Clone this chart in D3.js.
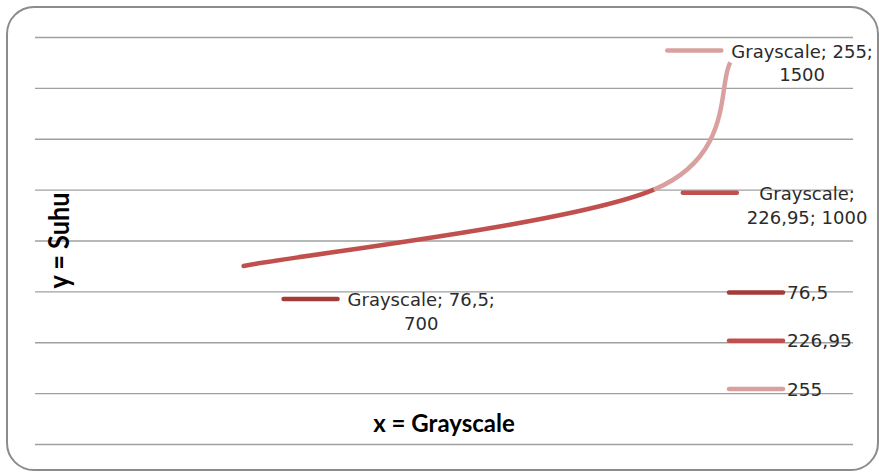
<!DOCTYPE html>
<html><head><meta charset="utf-8">
<script src="https://cdn.jsdelivr.net/npm/d3@7"></script>
<style>html,body{margin:0;padding:0;background:#fff;} svg{display:block;}</style>
</head><body>
<svg id="chart" width="879" height="472"></svg>
<script>
// Suhu (temperature) against grayscale level
const grayscale = [76.5, 226.95, 255];
const suhu = [700, 1000, 1500];
const seriesColors = ["#a33c39", "#c0504d", "#d9a09f"];
const yTicks = [0, 200, 400, 600, 800, 1000, 1200, 1400, 1600];
const xDomain = [0, 300];
const seriesName = "Grayscale";
const xTitle = "x = Grayscale";
const yTitle = "y = Suhu";

// data label placement: key-line start offset from its point, words on the first line
const labelLayout = [
  {dx: 40, dy: 33, firstLine: 2},
  {dx: 29, dy: 3, firstLine: 1},
  {dx: -63, dy: -12, firstLine: 2}
];

const W = 879, H = 472;
const plot = {left: 35, right: 853, top: 37, bottom: 444};
const svg = d3.select("#chart");
const labelFont = "'DejaVu Sans', sans-serif";
const textColor = "#2b2b2b";

const fmt = d3.formatLocale({decimal: ",", thousands: ".", grouping: [3], currency: ["", ""]}).format("~f");

const x = d3.scaleLinear().domain(xDomain).range([plot.left, plot.right]);
const y = d3.scaleLinear().domain([yTicks[0], yTicks[yTicks.length - 1]]).range([plot.bottom, plot.top]);

// outer frame
svg.append("rect")
  .attr("x", 7).attr("y", 7).attr("width", 871).attr("height", 463)
  .attr("rx", 27).attr("ry", 27)
  .attr("fill", "#fff").attr("stroke", "#8c8c8c").attr("stroke-width", 2);

// horizontal gridlines
const grid = svg.append("g")
  .attr("transform", `translate(${plot.left},0)`)
  .call(d3.axisLeft(y).tickValues(yTicks).tickSize(-(plot.right - plot.left)).tickFormat(""));
grid.select(".domain").remove();
grid.selectAll(".tick line").attr("stroke", "#a0a0a0").attr("stroke-width", 1.3);

// axis titles
svg.append("text")
  .attr("x", (plot.left + plot.right) / 2).attr("y", 432)
  .attr("text-anchor", "middle")
  .attr("font-family", "Lato, sans-serif").attr("font-weight", "bold").attr("font-size", 24)
  .attr("fill", "#000").text(xTitle);
svg.append("text")
  .attr("transform", `translate(69,${(plot.top + plot.bottom) / 2}) rotate(-90)`)
  .attr("text-anchor", "middle")
  .attr("font-family", "Lato, sans-serif").attr("font-weight", "bold").attr("font-size", 28)
  .attr("textLength", 96).attr("lengthAdjust", "spacingAndGlyphs")
  .attr("fill", "#000").text(yTitle);

// smoothed curve (cubic Bezier through the points, tangents from neighbours),
// each segment coloured by the point it leads to
const pts = grayscale.map((g, i) => [x(g), y(suhu[i])]);
const n = pts.length;
const tangents = pts.map((p, j) => {
  const a = pts[Math.max(0, j - 1)], b = pts[Math.min(n - 1, j + 1)];
  return [(b[0] - a[0]) / 6, (b[1] - a[1]) / 6];
});
for (let i = 0; i < n - 1; i++) {
  const p0 = pts[i], p1 = pts[i + 1], t0 = tangents[i], t1 = tangents[i + 1];
  const path = d3.path();
  path.moveTo(p0[0], p0[1]);
  path.bezierCurveTo(p0[0] + t0[0], p0[1] + t0[1], p1[0] - t1[0], p1[1] - t1[1], p1[0], p1[1]);
  svg.append("path")
    .attr("d", path.toString())
    .attr("fill", "none")
    .attr("stroke", seriesColors[i + 1])
    .attr("stroke-width", 4.5)
    .attr("stroke-linecap", i === 0 ? "round" : "butt");
}

// data labels with their legend keys
const keyLen = 54;
grayscale.forEach((g, i) => {
  const lay = labelLayout[i];
  const words = [seriesName + ";", fmt(g) + ";", fmt(suhu[i])];
  const lines = [words.slice(0, lay.firstLine).join(" "), words.slice(lay.firstLine).join(" ")];
  const kx = x(g) + lay.dx, ky = y(suhu[i]) + lay.dy;
  svg.append("line")
    .attr("x1", kx).attr("x2", kx + keyLen).attr("y1", ky).attr("y2", ky)
    .attr("stroke", seriesColors[i]).attr("stroke-width", 4.5).attr("stroke-linecap", "round");
  const tg = svg.append("g");
  const texts = lines.map((t, j) => tg.append("text")
    .attr("y", ky + 7.5 + j * 23.5)
    .attr("font-family", labelFont).attr("font-size", 18)
    .attr("fill", textColor).attr("text-anchor", "middle").text(t));
  const bw = d3.max(texts, t => t.node().getComputedTextLength());
  const cx = kx + keyLen + 10 + bw / 2;
  texts.forEach(t => t.attr("x", cx));
});

// legend
const legendX = 729, legendTop = 292.5, legendRow = 48.3;
grayscale.forEach((g, i) => {
  const ly = legendTop + i * legendRow;
  svg.append("line")
    .attr("x1", legendX).attr("x2", legendX + keyLen).attr("y1", ly).attr("y2", ly)
    .attr("stroke", seriesColors[i]).attr("stroke-width", 4.5).attr("stroke-linecap", "round");
  svg.append("text")
    .attr("x", legendX + keyLen + 4).attr("y", ly + 6.5)
    .attr("font-family", labelFont).attr("font-size", 18.5)
    .attr("fill", textColor).text(fmt(g));
});
</script>
</body></html>
